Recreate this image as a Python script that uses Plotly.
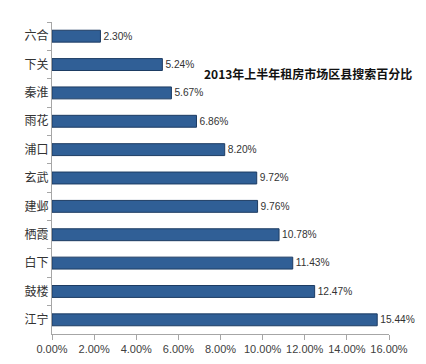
import plotly.graph_objects as go

districts = ["六合", "下关", "秦淮", "雨花", "浦口", "玄武", "建邺", "栖霞", "白下", "鼓楼", "江宁"]
shares = [2.30, 5.24, 5.67, 6.86, 8.20, 9.72, 9.76, 10.78, 11.43, 12.47, 15.44]
x_ticks = [0, 2, 4, 6, 8, 10, 12, 14, 16]
x_tick_labels = ["0.00%", "2.00%", "4.00%", "6.00%", "8.00%", "10.00%", "12.00%", "14.00%", "16.00%"]
title_text = "2013年上半年租房市场区县搜索百分比"

L, R, T, B = 44, 45, 14, 38
W, H = 426, 364

fig = go.Figure()
fig.add_trace(go.Bar(
    x=shares,
    y=districts,
    orientation="h",
    width=0.42,
    marker=dict(color="#305f96", line=dict(color="#1d3c63", width=1)),
    text=[f"{v:.2f}%" for v in shares],
    textposition="outside",
    textfont=dict(size=12, color="#333333", family="Liberation Sans, Arial, sans-serif"),
    cliponaxis=False,
))

fig.update_layout(
    width=W, height=H,
    margin=dict(l=L, r=R, t=T, b=B),
    paper_bgcolor="white", plot_bgcolor="white",
    showlegend=False,
    font=dict(family="Noto Sans CJK SC, sans-serif", color="#222222"),
    annotations=[dict(
        text=f"<b>{title_text}</b>",
        x=(300 - L) / (W - L - R), xref="paper", xanchor="center",
        y=1 - (65 - T) / (H - T - B), yref="paper", yanchor="middle",
        showarrow=False,
        font=dict(size=12, color="#111111", family="Noto Sans CJK SC, sans-serif"),
    )],
)

fig.update_xaxes(
    range=[0, 16], tickvals=x_ticks, ticktext=x_tick_labels,
    showgrid=False, zeroline=False,
    showline=True, linecolor="#a6a6a6", linewidth=1,
    ticks="outside", ticklen=5, tickcolor="#a6a6a6",
    tickfont=dict(size=11, color="#404040", family="Liberation Sans, Arial, sans-serif"),
)
fig.update_yaxes(
    categoryorder="array", categoryarray=districts, autorange="reversed",
    showgrid=False, zeroline=False,
    showline=True, linecolor="#a6a6a6", linewidth=1,
    ticks="outside", ticklen=4, tickcolor="#a6a6a6", tickson="boundaries",
    tickfont=dict(size=12, color="#333333", family="Noto Sans CJK SC, sans-serif"),
)

fig.write_html("out.html")
